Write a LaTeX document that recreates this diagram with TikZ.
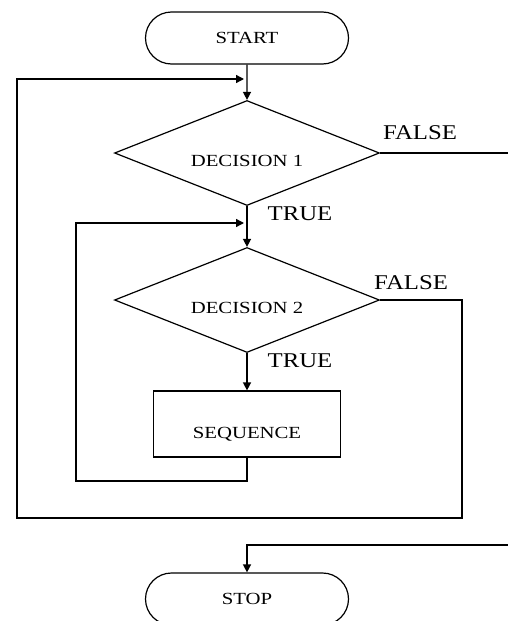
\documentclass[tikz,border=0pt]{standalone}
\usepackage{fontspec}
\setmainfont{Liberation Serif}
\newfontfamily\lblfont[FakeStretch=1.18]{Liberation Serif}
\newfontfamily\boxfont[FakeStretch=1.22]{Liberation Serif}
\usetikzlibrary{arrows.meta,shapes.geometric,shapes.misc}
\tikzset{>={Triangle[length=8pt,width=8pt]}}
\tikzset{
  term/.style={draw,rounded rectangle,minimum width=203pt,minimum height=52pt,
    inner sep=0pt,font=\boxfont\fontsize{17}{17}\selectfont},
  decide/.style={draw,diamond,aspect=2.5,minimum width=265pt,minimum height=105pt,
    inner sep=0pt,text height=27pt,text depth=0pt,
    font=\boxfont\fontsize{17}{17}\selectfont},
  seqbox/.style={draw,rectangle,minimum width=187pt,minimum height=66pt,
    inner sep=0pt,text height=29pt,text depth=0pt,
    font=\boxfont\fontsize{17}{17}\selectfont},
  answer/.style={inner sep=0pt,font=\lblfont\fontsize{21}{21}\selectfont},
  flow/.style={line width=1.4pt}
}

\begin{document}
\begin{tikzpicture}[x=1pt,y=-1pt,line width=1.2pt]
\useasboundingbox (0,0) rectangle (508,621);
\node[term] (start) at (247,38) {START};
\node[decide] (d1) at (247,153) {DECISION 1};
\node[decide] (d2) at (247,300) {DECISION 2};
\node[seqbox] (seq) at (247,424) {SEQUENCE\hspace{22pt}};
\node[term] (stop) at (247,599) {STOP};
\coordinate (j1) at (247,79);
\coordinate (j2) at (247,223);
\coordinate (f1) at (508,153);
\coordinate (f2) at (508,545);
\coordinate (c1) at (462,518);
\coordinate (c2) at (17,79);
\coordinate (c3) at (76,481);
\draw[flow,->] (start) -- (d1);
\draw[flow,->] (d1) -- (d2);
\draw[flow,->] (d2) -- (seq);
\draw[flow] (d1.east) -- (f1);
\draw[flow,->,shorten >=3pt] (d2.east) -| (c1) -| (c2) -- (j1);
\draw[flow,->,shorten >=3pt] (seq.south) |- (c3) |- (j2);
\draw[flow,->] (f2) -| (stop);
\node[answer] (t1) at (300,214) {TRUE};
\node[answer] (t2) at (300,361) {TRUE};
\node[answer] (n1) at (420,133) {FALSE};
\node[answer] (n2) at (411,283) {FALSE};
\end{tikzpicture}
\end{document}
